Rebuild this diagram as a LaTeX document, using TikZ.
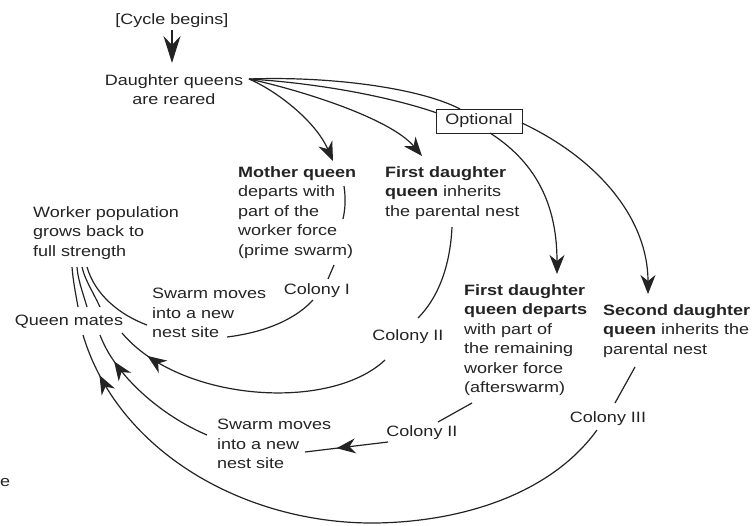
\documentclass[tikz,border=0pt]{standalone}
\usepackage{fontspec}
\setmainfont[FakeStretch=1.2]{Liberation Sans}
\usetikzlibrary{arrows.meta,decorations.markings,calc}
\definecolor{ink}{RGB}{35,35,35}
\begin{document}
\begin{tikzpicture}[x=1pt,y=-1pt,
  every node/.style={font=\fontsize{15}{19.5}\selectfont, text=ink, inner sep=0pt},
  txt/.style={anchor=north west, align=left},
  conn/.style={draw=ink, line width=1.2pt},
  arr/.style={conn, -{Stealth[length=19pt,width=15pt,inset=6pt]}},
  bigarr/.style={conn, -{Stealth[length=27pt,width=17pt,inset=9pt]}},
  midarr/.style={conn, postaction={decorate}, decoration={markings, mark=at position #1 with {\arrow{Stealth[length=19pt,width=15pt,inset=6pt]}}}},
]
\useasboundingbox (0,0) rectangle (755,525);

% ---- nodes ----
\node (cyc) at (172,21) {[Cycle begins]};
\node[anchor=north, align=center] (dq) at (174,74) {Daughter queens\\are reared};
\node[txt] (mq) at (238,166) {\textbf{Mother queen}\\departs with\\part of the\\worker force\\(prime swarm)};
\node[txt] (fdi) at (385,166) {\textbf{First daughter}\\\textbf{queen} inherits\\the parental nest};
\node[draw=ink, line width=0.9pt, minimum width=86pt, minimum height=24pt] (opt) at (479,121) {Optional};
\node[txt] (wp) at (33,206) {Worker population\\grows back to\\full strength};
\node (c1) at (317,291) {Colony I};
\node[txt] (sw1) at (152,288) {Swarm moves\\into a new\\nest site};
\node (qm) at (69,322) {Queen mates};
\node (c2a) at (408,337) {Colony II};
\node[txt] (fdd) at (464,284) {\textbf{First daughter}\\\textbf{queen departs}\\with part of\\the remaining\\worker force\\(afterswarm)};
\node[txt] (sdi) at (603,304) {\textbf{Second daughter}\\\textbf{queen} inherits the\\parental nest};
\node (c2b) at (422,433) {Colony II};
\node (c3) at (608,419) {Colony III};
\node[txt] (sw2) at (217,419) {Swarm moves\\into a new\\nest site};
\node[anchor=west] (frag) at (0,483) {e};

% ---- coordinates ----
\coordinate (dqR) at (249,79);
\coordinate (mqT) at (333,161);
\coordinate (fdiT) at (422,156);
\coordinate (optT) at (460,109);
\coordinate (optL) at (437,113);
\coordinate (optB) at (490,133);
\coordinate (optR) at (522,123);
\coordinate (fddT) at (557,274);
\coordinate (sdiT) at (648,294);

% ---- connectors ----
\draw[bigarr] (cyc.south) ++(0,2) -- (172,63);
\draw[arr] (dqR) .. controls (275,90) and (315,120) .. (mqT);
\draw[arr] (dqR) .. controls (300,90) and (390,118) .. (fdiT);
\draw[conn] (dqR) .. controls (330,76) and (420,88) .. (optT);
\draw[conn] (dqR) .. controls (330,84) and (400,100) .. (optL);
\draw[arr] (optB) .. controls (540,165) and (557,210) .. (fddT);
\draw[arr] (optR) .. controls (600,160) and (648,220) .. (sdiT);

% Colony I path
\draw[conn] (344,186) .. controls (346,200) and (345,210) .. (343,219);
\draw[conn] (334,265) -- (328,279);
\draw[conn] (313,300) .. controls (290,325) and (252,334) .. (227,337);
\draw[conn] (147,325) .. controls (120,315) and (95,295) .. (87,267);

% Queen mates -> worker population
\draw[conn] (78,307) .. controls (75,290) and (73,280) .. (72,267);
\draw[conn] (87,307) .. controls (82,290) and (78,280) .. (77,267);
\draw[conn] (100,307) .. controls (92,290) and (85,280) .. (82,267);

% Colony II (first)
\draw[conn] (452,227) .. controls (450,270) and (436,300) .. (418,318);
\draw[midarr=0.88] (385,360) .. controls (330,412) and (180,402) .. (122,333);

% Colony II (second)
\draw[conn] (472,403) -- (438,422);
\draw[midarr=0.62] (388,442) -- (305,452);
\draw[midarr=0.8] (207,435) .. controls (160,415) and (115,375) .. (100,335);

% Colony III
\draw[conn] (635,367) -- (615,403);
\draw[midarr=0.93] (597,430) .. controls (550,495) and (460,522) .. (375,523) .. controls (245,524) and (118,452) .. (83,335);
\end{tikzpicture}
\end{document}
